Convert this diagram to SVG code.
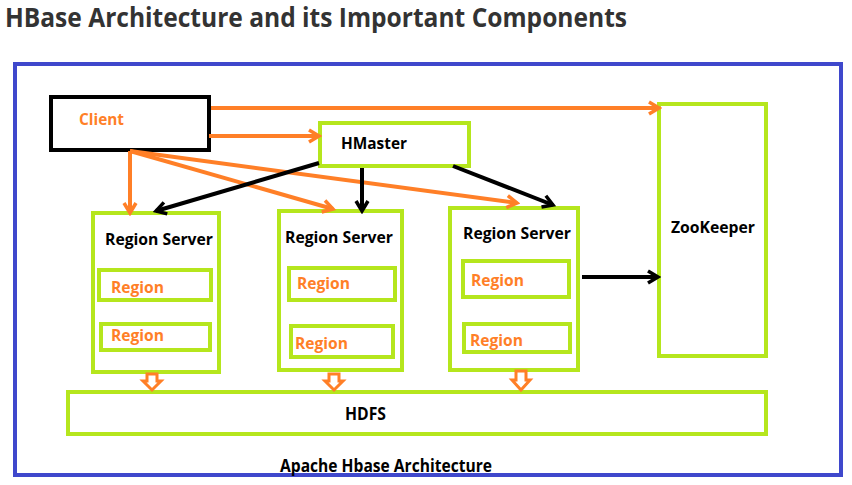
<svg xmlns="http://www.w3.org/2000/svg" width="852" height="485" viewBox="0 0 852 485">
<style>
.box{fill:#ffffff;stroke:#b5e61d;stroke-width:4}
.lbl{font-family:"Open Sans","Liberation Sans",sans-serif;font-weight:700;fill:#000}
.org{font-family:"Open Sans","Liberation Sans",sans-serif;font-weight:700;fill:#ff7f27}
.oa{stroke:#ff7f27;stroke-width:4;fill:none}
.ba{stroke:#000;stroke-width:4;fill:none}
.blk{fill:#ffffff;stroke:#ff7f27;stroke-width:3;stroke-linejoin:miter}
</style>
<defs>
<marker id="ao" markerUnits="userSpaceOnUse" markerWidth="16" markerHeight="16" viewBox="0 0 16 16" refX="13" refY="8" orient="auto">
<path d="M3,2 L13,8 L3,14" fill="none" stroke="#ff7f27" stroke-width="3.5"/>
</marker>
<marker id="ab" markerUnits="userSpaceOnUse" markerWidth="16" markerHeight="16" viewBox="0 0 16 16" refX="13" refY="8" orient="auto">
<path d="M3,2 L13,8 L3,14" fill="none" stroke="#000" stroke-width="3.5"/>
</marker>
</defs>
<rect x="0" y="0" width="852" height="485" fill="#ffffff"/>
<text x="5" y="27" font-family="'Open Sans','Liberation Sans',sans-serif" font-weight="700" font-size="26" fill="#333333" textLength="622" lengthAdjust="spacingAndGlyphs">HBase Architecture and its Important Components</text>
<rect id="frame" x="15" y="64" width="826" height="411" fill="none" stroke="#3f48cc" stroke-width="4"/>

<g id="client"><rect x="51" y="97" width="158" height="53" fill="#fff" stroke="#000" stroke-width="4"/><text class="org" x="79" y="125" font-size="16" textLength="45" lengthAdjust="spacingAndGlyphs">Client</text></g>
<g id="hmaster"><rect class="box" x="320" y="123" width="149" height="43"/><text class="lbl" x="341" y="149" font-size="16" textLength="66" lengthAdjust="spacingAndGlyphs">HMaster</text></g>
<g id="zookeeper"><rect class="box" x="659" y="104" width="107" height="252"/><text class="lbl" x="671" y="233" font-size="16" textLength="84" lengthAdjust="spacingAndGlyphs">ZooKeeper</text></g>

<g id="rs1"><rect class="box" x="93" y="213" width="126" height="159"/><text class="lbl" x="105" y="245" font-size="16" textLength="108" lengthAdjust="spacingAndGlyphs">Region Server</text>
<g id="r1a"><rect class="box" x="99" y="270" width="112" height="30"/><text class="org" x="111" y="293" font-size="16" textLength="53" lengthAdjust="spacingAndGlyphs">Region</text></g>
<g id="r1b"><rect class="box" x="101" y="324" width="109" height="26"/><text class="org" x="111" y="341" font-size="16" textLength="53" lengthAdjust="spacingAndGlyphs">Region</text></g></g>

<g id="rs2"><rect class="box" x="279" y="211" width="123" height="159"/><text class="lbl" x="285" y="243" font-size="16" textLength="108" lengthAdjust="spacingAndGlyphs">Region Server</text>
<g id="r2a"><rect class="box" x="289" y="268" width="106" height="32"/><text class="org" x="297" y="289" font-size="16" textLength="53" lengthAdjust="spacingAndGlyphs">Region</text></g>
<g id="r2b"><rect class="box" x="291" y="326" width="102" height="31"/><text class="org" x="295" y="349" font-size="16" textLength="53" lengthAdjust="spacingAndGlyphs">Region</text></g></g>

<g id="rs3"><rect class="box" x="450" y="208" width="128" height="162"/><text class="lbl" x="463" y="239" font-size="16" textLength="108" lengthAdjust="spacingAndGlyphs">Region Server</text>
<g id="r3a"><rect class="box" x="463" y="261" width="106" height="36"/><text class="org" x="471" y="286" font-size="16" textLength="53" lengthAdjust="spacingAndGlyphs">Region</text></g>
<g id="r3b"><rect class="box" x="464" y="324" width="106" height="28"/><text class="org" x="470" y="346" font-size="16" textLength="53" lengthAdjust="spacingAndGlyphs">Region</text></g></g>

<g id="hdfs"><rect class="box" x="68" y="392" width="698" height="42"/><text class="lbl" x="345" y="420" font-size="17" textLength="41" lengthAdjust="spacingAndGlyphs">HDFS</text></g>

<g id="connectors">
<line class="oa" x1="211" y1="108" x2="659" y2="108" marker-end="url(#ao)"/>
<line class="oa" x1="209" y1="136" x2="319" y2="136" marker-end="url(#ao)"/>
<line class="oa" x1="130" y1="151" x2="130" y2="213" marker-end="url(#ao)"/>
<line class="oa" x1="130" y1="151" x2="333" y2="209" marker-end="url(#ao)"/>
<line class="oa" x1="130" y1="151" x2="517" y2="203" marker-end="url(#ao)"/>
<line class="ba" x1="319" y1="163" x2="156" y2="211" marker-end="url(#ab)"/>
<line class="ba" x1="362" y1="168" x2="362" y2="211" marker-end="url(#ab)"/>
<line class="ba" x1="453" y1="166" x2="553" y2="205" marker-end="url(#ab)"/>
<line class="ba" x1="582" y1="277" x2="658" y2="277" marker-end="url(#ab)"/>
<path class="blk" d="M147,374 L157,374 L157,381 L161,381 L152,390 L143,381 L147,381 Z"/>
<path class="blk" d="M329,374 L339,374 L339,381 L343,381 L334,390 L325,381 L329,381 Z"/>
<path class="blk" d="M516,371 L526,371 L526,380 L530,380 L521,390 L512,380 L516,380 Z"/>
</g>
<text x="280" y="472" font-family="'Open Sans','Liberation Sans',sans-serif" font-weight="700" font-size="17" fill="#000" textLength="212" lengthAdjust="spacingAndGlyphs">Apache Hbase Architecture</text>
</svg>
